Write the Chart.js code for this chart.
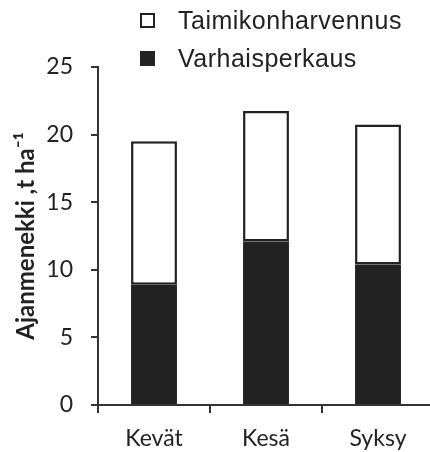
<!DOCTYPE html>
<html>
<head>
<meta charset="utf-8">
<script src="https://cdn.jsdelivr.net/npm/chart.js@4"></script>
<style>
html,body{margin:0;padding:0;background:#fff;overflow:hidden;width:430px;height:452px;}
#wrap{position:relative;width:440px;height:452px;}
#legend{position:absolute;left:140px;top:1px;font-family:"Liberation Sans",Arial,sans-serif;font-size:25px;letter-spacing:0.5px;color:#222;}
.li{display:flex;align-items:center;height:38px;}
.sw{width:15px;height:15px;box-sizing:border-box;border:2.5px solid #222;margin-right:23px;}
</style>
</head>
<body>
<div id="wrap">
<canvas id="c" width="440" height="452"></canvas>
<div id="legend"></div>
</div>
<script>
const categories = ["Kevät", "Kesä", "Syksy"];
const varhaisperkaus = [8.9, 12.1, 10.4];
const taimikonharvennus = [10.6, 9.65, 10.35];
const yTicks = [0, 5, 10, 15, 20, 25];
const seriesNames = ["Varhaisperkaus", "Taimikonharvennus"];
const yTitle = "Ajanmenekki ,t ha\u207B\u00B9";

const dark = "#222222";
const chart = new Chart(document.getElementById("c"), {
  type: "bar",
  data: {
    labels: categories,
    datasets: [
      {label: seriesNames[0], data: varhaisperkaus, backgroundColor: dark, borderColor: dark, borderWidth: 0, categoryPercentage: 1, barPercentage: 0.41},
      {label: seriesNames[1], data: taimikonharvennus, backgroundColor: "#ffffff", borderColor: dark, borderWidth: 2.5, borderSkipped: false, categoryPercentage: 1, barPercentage: 0.41}
    ]
  },
  options: {
    responsive: false,
    animation: false,
    layout: {padding: {top: 67, right: 6, left: 0, bottom: 0}},
    plugins: {legend: {display: false}, tooltip: {enabled: false}},
    scales: {
      x: {
        stacked: true,
        offset: true,
        grid: {display: true, drawOnChartArea: false, drawTicks: true, tickLength: 8, color: "#333", lineWidth: 2, offset: true},
        border: {display: true, color: "#333", width: 2},
        ticks: {color: dark, font: {family: "Lato, 'Open Sans', sans-serif", size: 23}, padding: 12},
        afterFit: s => { s.height = 47; }
      },
      y: {
        stacked: true,
        min: 0, max: 25,
        afterBuildTicks: s => { s.ticks = yTicks.map(v => ({value: v})); },
        grid: {display: true, drawOnChartArea: false, drawTicks: true, tickLength: 7, color: "#333", lineWidth: 2},
        border: {display: true, color: "#333", width: 2},
        ticks: {color: dark, font: {family: "Lato, 'Open Sans', sans-serif", size: 23}, padding: 18},
        title: {display: true, text: yTitle, color: dark, font: {family: "Lato, 'Open Sans', sans-serif", size: 24, weight: "bold"}, padding: {top: 12, bottom: 0}},
        afterFit: s => { s.width = 98; }
      }
    }
  }
});

const lg = document.getElementById("legend");
[1, 0].forEach(i => {
  const ds = chart.data.datasets[i];
  const row = document.createElement("div"); row.className = "li";
  const sw = document.createElement("div"); sw.className = "sw"; sw.style.background = ds.backgroundColor;
  const t = document.createElement("span"); t.textContent = ds.label;
  row.appendChild(sw); row.appendChild(t); lg.appendChild(row);
});
</script>
</body>
</html>
